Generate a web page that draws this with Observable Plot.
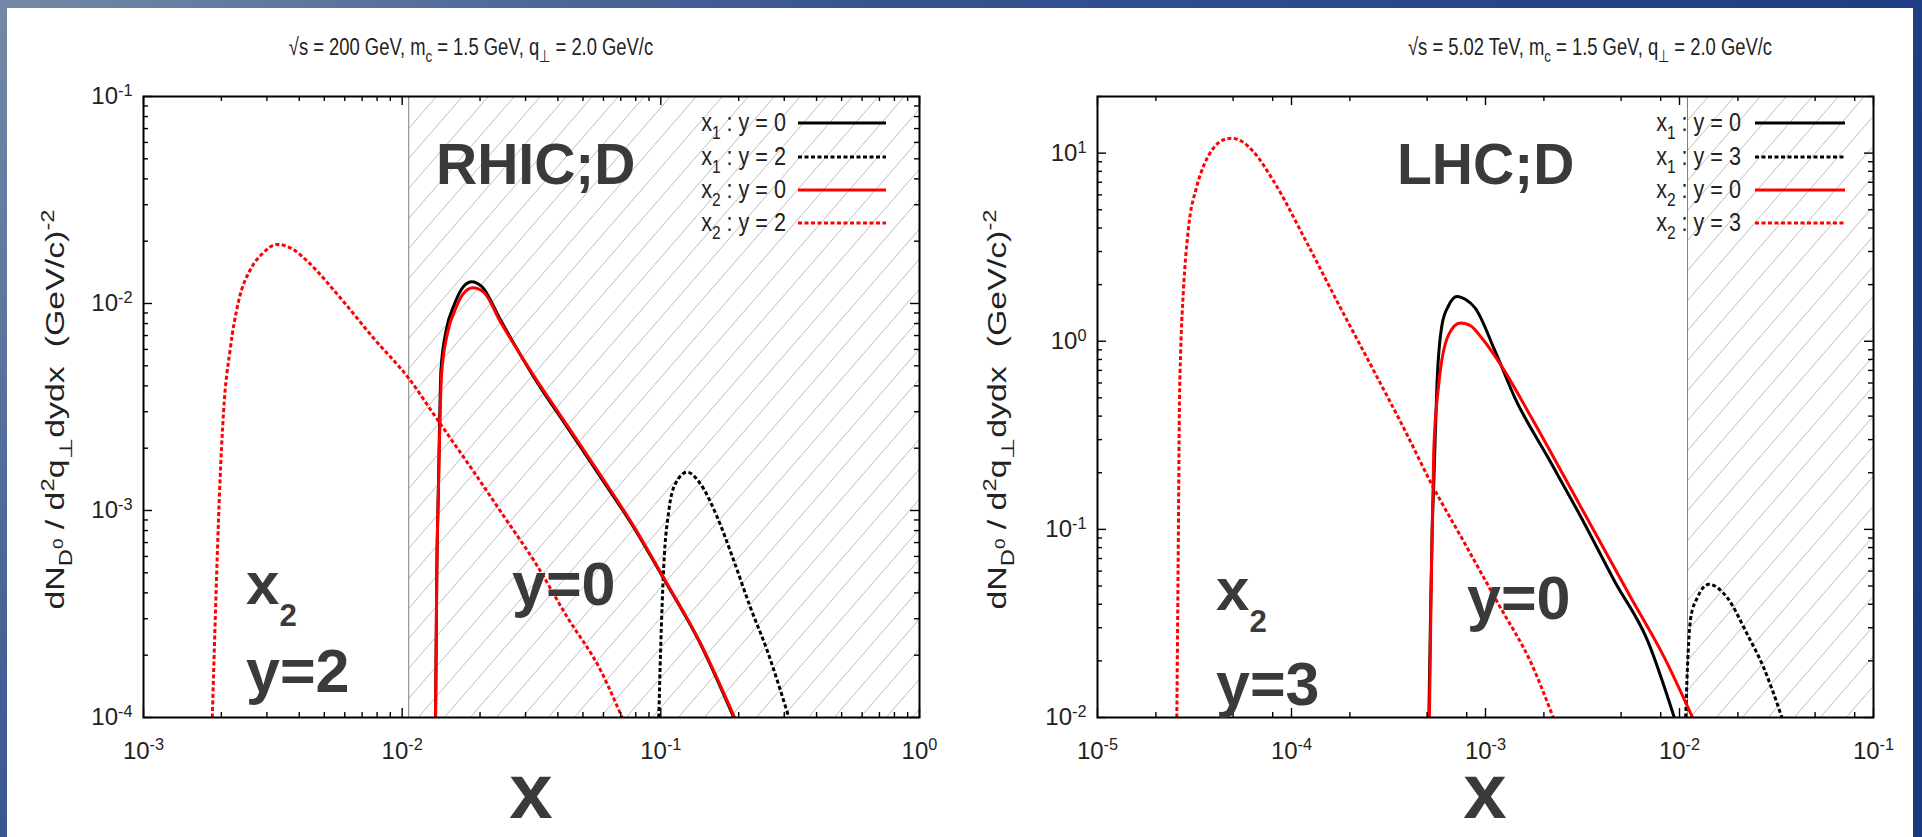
<!DOCTYPE html>
<html><head><meta charset="utf-8">
<script src="https://cdn.jsdelivr.net/npm/d3@7"></script>
<script src="https://cdn.jsdelivr.net/npm/@observablehq/plot@0.6"></script>
<style>
html,body{margin:0;padding:0;}
body{width:1922px;height:837px;overflow:hidden;position:relative;
 background:linear-gradient(135deg,#7489a6 0%,#35548f 32%,#1e3d84 70%,#1a3980 100%);}
#sheet{position:absolute;left:7px;top:8px;width:1906px;height:829px;background:#fff;}
.panel{position:absolute;top:0;height:837px;}
.panel svg{max-width:none;overflow:visible;}
</style></head><body>
<div id="sheet"></div>
<div id="left" class="panel" style="left:0;width:960px"></div>
<div id="right" class="panel" style="left:960px;width:962px"></div>
<script>
const FONT = '"Liberation Sans",Arial,sans-serif';
const BOLD = '"Liberation Sans",Arial,sans-serif';

// ---------- shared styling lists ----------
const seriesColor = ["#000000", "#000000", "#ff0000", "#ff0000"];
const seriesDash = [null, "4,2.5", null, "4,2.5"];
const legendSub = ["1", "1", "2", "2"];

// ---------- RHIC panel ----------
const rhicXTicks = [1e-3, 1e-2, 1e-1, 1];
const rhicXTickLabels = ["-3", "-2", "-1", "0"];
const rhicYTicks = [1e-4, 1e-3, 1e-2, 1e-1];
const rhicYTickLabels = ["-4", "-3", "-2", "-1"];
const rhicBoundary = [0.0106];
const rhicLegendY = ["0", "2", "0", "2"];
// x1 : y = 0
const rhic_x1_y0 = [[1.346e-2,1e-4],[1.361e-2,5.0e-4],[1.380e-2,1.26e-3],[1.413e-2,4.79e-3],[1.479e-2,7.41e-3],[1.585e-2,9.77e-3],[1.698e-2,1.175e-2],[1.854e-2,1.274e-2],[2.04e-2,1.202e-2],[2.40e-2,8.32e-3],[3.23e-2,4.41e-3],[4.35e-2,2.52e-3],[5.85e-2,1.449e-3],[7.85e-2,8.30e-4],[0.1026,4.68e-4],[0.1422,2.27e-4],[0.1914,1e-4]];
// x1 : y = 2
const rhic_x1_y2 = [[0.0982,1e-4],[0.0998,2.11e-4],[0.1026,5.32e-4],[0.1074,1.0e-3],[0.1138,1.346e-3],[0.1265,1.531e-3],[0.1422,1.346e-3],[0.1652,9.29e-4],[0.1914,5.73e-4],[0.2218,3.41e-4],[0.2576,2.11e-4],[0.3126,1e-4]];
// x2 : y = 0
const rhic_x2_y0 = [[1.346e-2,1e-4],[1.361e-2,5.0e-4],[1.380e-2,1.20e-3],[1.419e-2,4.47e-3],[1.493e-2,7.08e-3],[1.603e-2,9.33e-3],[1.718e-2,1.109e-2],[1.875e-2,1.191e-2],[2.065e-2,1.135e-2],[2.40e-2,8.13e-3],[3.23e-2,4.47e-3],[4.35e-2,2.57e-3],[5.85e-2,1.479e-3],[7.85e-2,8.41e-4],[0.1026,4.73e-4],[0.1422,2.29e-4],[0.1928,1e-4]];
// x2 : y = 2
const rhic_x2_y2 = [[1.845e-3,1e-4],[1.897e-3,3.19e-4],[1.968e-3,1.23e-3],[2.04e-3,3.02e-3],[2.16e-3,5.93e-3],[2.33e-3,1.023e-2],[2.59e-3,1.459e-2],[2.88e-3,1.74e-2],[3.29e-3,1.93e-2],[3.80e-3,1.82e-2],[4.30e-3,1.60e-2],[5.77e-3,1.064e-2],[7.76e-3,6.79e-3],[1.062e-2,4.34e-3],[1.365e-2,2.76e-3],[1.89e-2,1.54e-3],[2.51e-2,9.12e-4],[3.23e-2,5.73e-4],[4.35e-2,3.05e-4],[5.85e-2,1.69e-4],[7.08e-2,1e-4]];

// ---------- LHC panel ----------
const lhcXTicks = [1e-5, 1e-4, 1e-3, 1e-2, 1e-1];
const lhcXTickLabels = ["-5", "-4", "-3", "-2", "-1"];
const lhcYTicks = [1e-2, 1e-1, 1, 10];
const lhcYTickLabels = ["-2", "-1", "0", "1"];
const lhcBoundary = [0.0110];
const lhcLegendY = ["0", "3", "0", "3"];
const lhc_x1_y0 = [[5.105e-4,1e-2],[5.2e-4,3.16e-2],[5.31e-4,0.1],[5.41e-4,0.1734],[5.62e-4,0.589],[5.97e-4,1.225],[6.46e-4,1.549],[7.13e-4,1.73],[7.94e-4,1.66],[8.85e-4,1.50],[1.122e-3,0.883],[1.419e-3,0.499],[2.104e-3,0.240],[3.119e-3,0.1153],[4.62e-3,5.32e-2],[6.855e-3,2.553e-2],[9.40e-3,1e-2]];
const lhc_x1_y3 = [[1.076e-2,1e-2],[1.099e-2,1.84e-2],[1.143e-2,3.40e-2],[1.236e-2,4.335e-2],[1.419e-2,5.105e-2],[1.762e-2,4.335e-2],[2.234e-2,2.773e-2],[2.716e-2,1.84e-2],[3.373e-2,1e-2]];
const lhc_x2_y0 = [[5.14e-4,1e-2],[5.25e-4,5.01e-2],[5.41e-4,0.2606],[5.74e-4,0.589],[6.46e-4,1.084],[7.41e-4,1.25],[8.32e-4,1.216],[9.57e-4,1.04],[1.167e-3,0.782],[1.730e-3,0.391],[2.564e-3,0.188],[3.793e-3,9.02e-2],[5.62e-3,4.335e-2],[8.36e-3,2.08e-2],[1.167e-2,1e-2]];
const lhc_x2_y3 = [[2.564e-5,1e-2],[2.612e-5,9.62e-2],[2.642e-5,0.4236],[2.685e-5,0.887],[2.773e-5,1.862],[2.938e-5,3.908],[3.243e-5,6.6],[3.548e-5,8.7],[3.954e-5,10.6],[4.4e-5,11.7],[4.9e-5,12.0],[5.5e-5,11.6],[6.3e-5,10.3],[8.02e-5,7.2],[1.189e-4,3.4],[1.762e-4,1.55],[2.612e-4,0.72],[3.873e-4,0.3304],[5.31e-4,0.1718],[7.87e-4,8.32e-2],[1.167e-3,4.0e-2],[1.730e-3,1.919e-2],[2.234e-3,1e-2]];

function rich(sel, parts, fs) {
  let cur = 0;
  for (const p of parts) {
    const shift = (p.s || 0) * fs;
    const size = (p.k || 1) * fs;
    sel.append("tspan").attr("dy", (shift - cur).toFixed(2)).attr("font-size", size.toFixed(2)).text(p.t);
    cur = shift;
  }
}
function addText(svg, x, y, parts, opt) {
  const t = svg.append("text")
    .attr("font-family", opt.family || FONT).attr("font-size", opt.size)
    .attr("font-weight", opt.weight || "normal").attr("fill", opt.fill || "#222")
    .attr("text-anchor", opt.anchor || "start").style("white-space", "pre");
  if (opt.transform) t.attr("x", 0).attr("y", 0).attr("transform", opt.transform);
  else if (opt.sx || opt.sy) t.attr("x", 0).attr("y", 0).attr("transform", `translate(${x},${y}) scale(${opt.sx || 1},${opt.sy || 1})`);
  else t.attr("x", x).attr("y", y);
  if (opt.len) t.attr("textLength", opt.len).attr("lengthAdjust", "spacingAndGlyphs");
  rich(t, parts, opt.size);
  return t;
}

function drawPanel(cfg) {
  const W = cfg.width, H = 837;
  const fw = W - cfg.ml - cfg.mr, fh = H - cfg.mt - cfg.mb;
  const minorX = [];
  cfg.xTicks.forEach(d => cfg.xMinor.forEach(k => { const v = k * d; if (v < cfg.xDomain[1]) minorX.push(v); }));
  const minorY = [];
  cfg.yTicks.forEach(d => cfg.yMinor.forEach(k => { const v = k * d; if (v <= cfg.yDomain[1] * 1.0001) minorY.push(v); }));
  const fmtX = d => "10^" + cfg.xLabels[cfg.xTicks.findIndex(t => Math.abs(t / d - 1) < 1e-6)];
  const fmtY = d => "10^" + cfg.yLabels[cfg.yTicks.findIndex(t => Math.abs(t / d - 1) < 1e-6)];
  const tk = {stroke: "#000", strokeWidth: 1.4};
  const marks = [
    Plot.rect([[cfg.boundary[0], cfg.xDomain[1]]], {x1: d => d[0], x2: d => d[1], fill: `url(#hatch-${cfg.id})`}),
    Plot.ruleX(cfg.boundary, {x: d => d, stroke: "#808080", strokeWidth: 1}),
    ...cfg.series.map((s, i) => Plot.line(s, {x: d => d[0], y: d => d[1], stroke: seriesColor[i], strokeWidth: 3,
      strokeDasharray: seriesDash[i], strokeLinecap: "butt", curve: "monotone-x", clip: true})),
    Plot.tickX(cfg.xTicks, {x: d => d, insetTop: fh - 9, ...tk}),
    Plot.tickX(cfg.xTicks, {x: d => d, insetBottom: fh - 9, ...tk}),
    Plot.tickX(minorX, {x: d => d, insetTop: fh - 5, ...tk}),
    Plot.tickX(minorX, {x: d => d, insetBottom: fh - 5, ...tk}),
    Plot.tickY(cfg.yTicks, {y: d => d, insetRight: fw - 9, ...tk}),
    Plot.tickY(cfg.yTicks, {y: d => d, insetLeft: fw - 9, ...tk}),
    Plot.tickY(minorY, {y: d => d, insetRight: fw - 5, ...tk}),
    Plot.tickY(minorY, {y: d => d, insetLeft: fw - 5, ...tk}),
    Plot.axisX({ticks: cfg.xTicks, tickSize: 0, tickPadding: 24, tickFormat: fmtX, fontSize: 24, label: null}),
    Plot.axisY({ticks: cfg.yTicks, tickSize: 0, tickPadding: 11, tickFormat: fmtY, fontSize: 24, label: null}),
    Plot.frame({stroke: "#000", strokeWidth: 2})
  ];
  const plot = Plot.plot({
    width: W, height: H,
    marginLeft: cfg.ml, marginRight: cfg.mr, marginTop: cfg.mt, marginBottom: cfg.mb,
    x: {type: "log", domain: cfg.xDomain, label: null},
    y: {type: "log", domain: cfg.yDomain, label: null},
    style: {fontFamily: FONT, fontSize: "24px", color: "#222", background: "transparent", overflow: "visible"},
    marks
  });
  const svg = d3.select(plot);
  const defs = svg.insert("defs", ":first-child");
  const pat = defs.append("pattern").attr("id", `hatch-${cfg.id}`).attr("patternUnits", "userSpaceOnUse")
    .attr("width", 26).attr("height", 30);
  pat.append("path").attr("d", "M-2,32.31L28,-2.31").attr("stroke", "#bdbdbd").attr("stroke-width", 1).attr("fill", "none");

  // superscript tick labels
  svg.selectAll('g[aria-label$="tick label"] text').each(function () {
    const m = /^10\^(.+)$/.exec(this.textContent);
    if (!m) return;
    const el = d3.select(this);
    el.text(null);
    el.append("tspan").text("10");
    el.append("tspan").attr("dy", "-0.5em").attr("font-size", "0.68em").text(m[1]);
  });

  // title
  addText(svg, cfg.titleX, 55, [
    {t: "\u221As = " + cfg.energy + ", m"}, {t: "c", s: 0.3, k: 0.72}, {t: " = 1.5 GeV, q"}, {t: "\u22A5", s: 0.3, k: 0.72}, {t: " = 2.0 GeV/c"}
  ], {size: 23, anchor: "middle", sx: 0.8, sy: 1.05});

  // y axis title
  addText(svg, 0, 0, [
    {t: "dN"}, {t: "D", s: 0.3, k: 0.7}, {t: "0", s: -0.05, k: 0.55}, {t: " / d"}, {t: "2", s: -0.42, k: 0.7}, {t: "q"},
    {t: "\u22A5", s: 0.3, k: 0.7}, {t: "dydx  (GeV/c)"}, {t: "-2", s: -0.42, k: 0.7}
  ], {size: 25, anchor: "middle", len: 400, transform: `translate(${cfg.yTitleX},${cfg.mt + fh / 2 + 3}) rotate(-90)`});

  // legend
  const rows = [123, 157, 190, 223];
  rows.forEach((ry, i) => {
    addText(svg, cfg.legTextR, ry + 8, [
      {t: "x"}, {t: legendSub[i], s: 0.3, k: 0.72}, {t: " : y = " + cfg.legendY[i]}
    ], {size: 24, anchor: "end", fill: "#222", sx: 0.9, sy: 1.1});
    svg.append("line").attr("x1", cfg.legLine[0]).attr("x2", cfg.legLine[1]).attr("y1", ry).attr("y2", ry)
      .attr("stroke", seriesColor[i]).attr("stroke-width", 3).attr("stroke-dasharray", seriesDash[i]);
  });

  // big annotations
  const big = {family: BOLD, weight: "bold", fill: "#3a3a3a"};
  cfg.notes.forEach(n => addText(svg, n[0], n[1], n[2], {...big, size: n[3]}));
  // x axis title
  addText(svg, cfg.ml + fw / 2, 818, [{t: "x"}], {...big, size: 78, anchor: "middle"});

  document.getElementById(cfg.id).appendChild(plot);
}

drawPanel({
  id: "left", width: 960, ml: 143, mr: 41, mt: 96, mb: 120,
  xDomain: [1e-3, 1], yDomain: [1e-4, 1e-1],
  xTicks: rhicXTicks, xLabels: rhicXTickLabels, yTicks: rhicYTicks, yLabels: rhicYTickLabels,
  xMinor: [2, 3, 4, 5, 6, 7, 8, 9], yMinor: [2, 3, 4, 5, 6, 7, 8, 9],
  boundary: rhicBoundary, series: [rhic_x1_y0, rhic_x1_y2, rhic_x2_y0, rhic_x2_y2],
  energy: "200 GeV", titleX: 471, yTitleX: 64, legendY: rhicLegendY, legTextR: 786, legLine: [798, 886],
  notes: [
    [436, 184, [{t: "RHIC;D"}], 57],
    [246, 604, [{t: "x"}, {t: "2", s: 0.37, k: 0.52}], 60],
    [246, 692, [{t: "y=2"}], 61],
    [512, 605, [{t: "y=0"}], 61]
  ]
});
drawPanel({
  id: "right", width: 962, ml: 137, mr: 49, mt: 96, mb: 120,
  xDomain: [1e-5, 1e-1], yDomain: [1e-2, 20],
  xTicks: lhcXTicks, xLabels: lhcXTickLabels, yTicks: lhcYTicks, yLabels: lhcYTickLabels,
  xMinor: [2, 5, 8], yMinor: [2, 3, 4, 5, 6, 7, 8, 9],
  boundary: lhcBoundary, series: [lhc_x1_y0, lhc_x1_y3, lhc_x2_y0, lhc_x2_y3],
  energy: "5.02 TeV", titleX: 630, yTitleX: 46, legendY: lhcLegendY, legTextR: 781, legLine: [795, 885],
  notes: [
    [437, 184, [{t: "LHC;D"}], 57],
    [256, 610, [{t: "x"}, {t: "2", s: 0.37, k: 0.52}], 60],
    [256, 705, [{t: "y=3"}], 61],
    [507, 619, [{t: "y=0"}], 61]
  ]
});
</script></body></html>
